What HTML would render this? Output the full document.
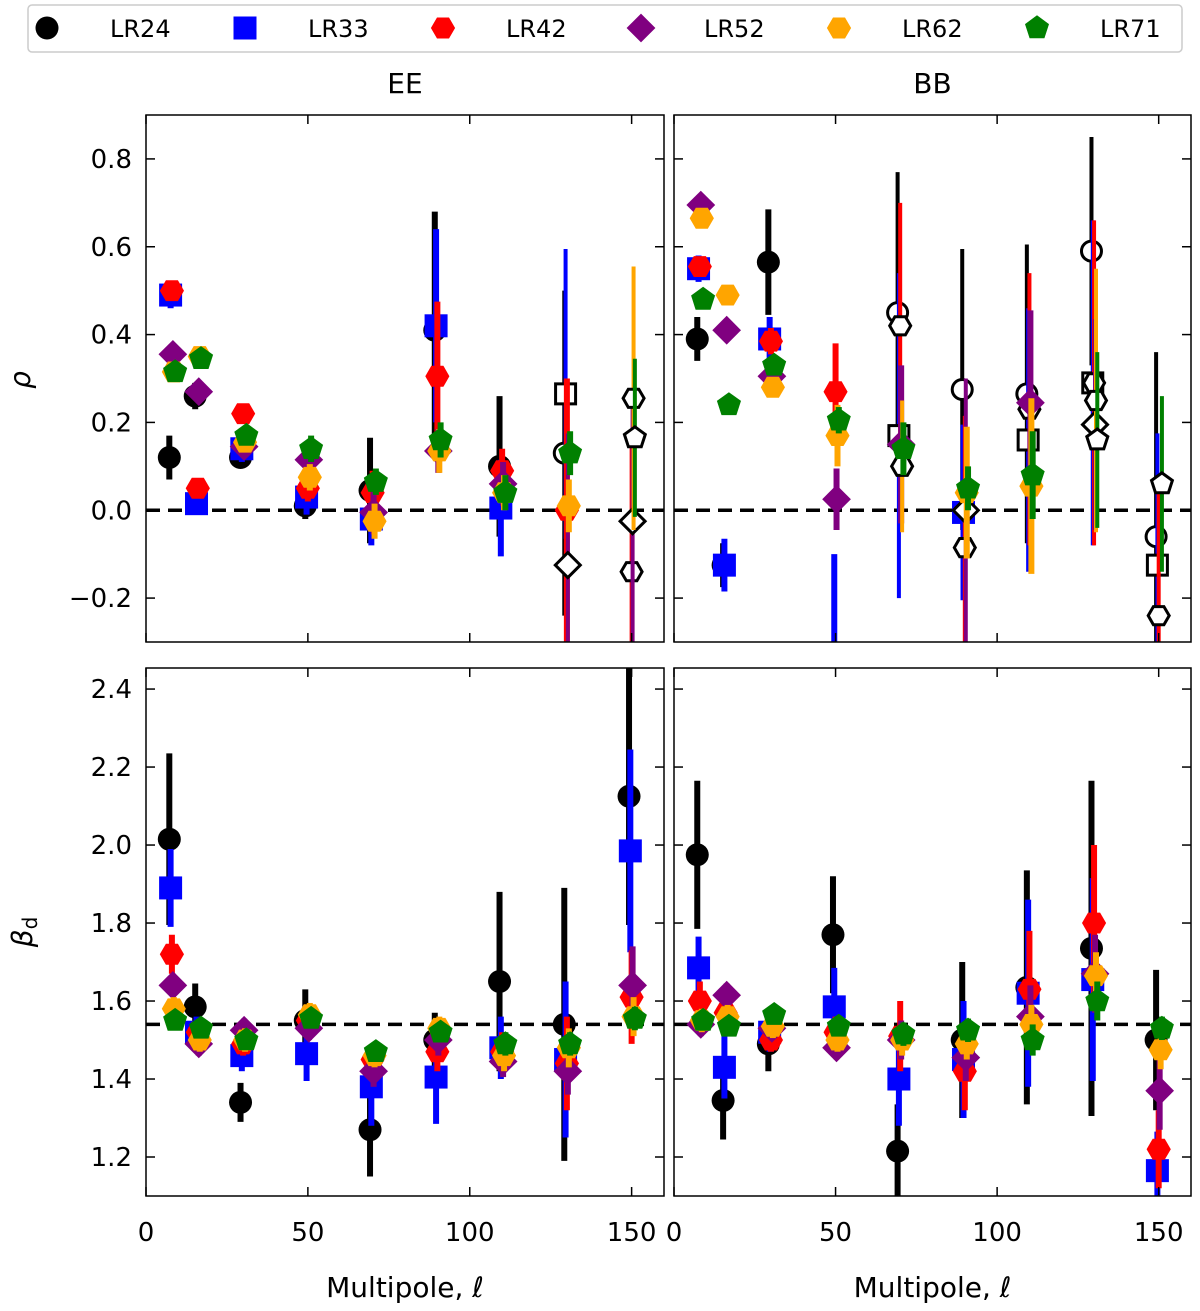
<!DOCTYPE html>
<html><head><meta charset="utf-8"><style>
body{margin:0;background:#fff;}
svg{display:block;font-family:"DejaVu Sans","Liberation Sans",sans-serif;}
</style></head><body>
<svg id="chart" width="1200" height="1311" viewBox="0 0 1200 1311" xmlns="http://www.w3.org/2000/svg"></svg>
<script>
const series = ["LR24","LR33","LR42","LR52","LR62","LR71"];
const colors = ["#000000","#0000ff","#ff0000","#800080","#ffa500","#008000"];
const shapes = ["circle","square","hexagon","diamond","hexagon2","pentagon"];
const bins = [8,16,30,50,70,90,110,130,150];
const offsets = [-0.8,-0.4,0,0.3,0.6,1.0];
// EE rho
const eeRho = [
 [0.12,0.26,0.12,0.01,0.045,0.41,0.10,0.13,null],
 [0.49,0.015,0.14,0.03,-0.02,0.42,0.005,0.265,null],
 [0.50,0.05,0.22,0.05,0.04,0.305,0.09,0.0,-0.14],
 [0.355,0.27,0.145,0.115,-0.005,0.135,0.06,-0.125,-0.025],
 [0.315,0.35,0.155,0.075,-0.025,0.135,0.04,0.01,0.255],
 [0.315,0.345,0.17,0.14,0.065,0.16,0.04,0.13,0.165]];
const eeRhoErr = [
 [0.05,0.03,0.02,0.03,0.12,0.27,0.16,0.37,0],
 [0.03,0.02,0.03,0.04,0.06,0.22,0.11,0.33,0],
 [0.02,0.02,0.02,0.03,0.05,0.17,0.05,0.3,0.3],
 [0.02,0.02,0.02,0.03,0.05,0.05,0.05,0.3,0.3],
 [0.02,0.02,0.02,0.03,0.04,0.05,0.04,0.06,0.3],
 [0.02,0.02,0.02,0.03,0.03,0.04,0.04,0.05,0.18]];
const eeRhoOpen = [
 [0,0,0,0,0,0,0,1,0],[0,0,0,0,0,0,0,1,0],[0,0,0,0,0,0,0,0,1],
 [0,0,0,0,0,0,0,1,1],[0,0,0,0,0,0,0,0,1],[0,0,0,0,0,0,0,0,1]];
// BB rho
const bbRho = [
 [0.39,-0.125,0.565,null,0.45,0.275,0.265,0.59,-0.06],
 [0.55,-0.125,0.39,-0.4,0.17,-0.005,0.16,0.29,-0.125],
 [0.555,null,0.385,0.27,0.42,-0.085,0.23,0.29,-0.24],
 [0.695,0.41,0.305,0.025,0.15,0.0,0.245,0.195,null],
 [0.665,0.49,0.28,0.17,0.10,0.04,0.055,0.25,null],
 [0.48,0.24,0.33,0.205,0.14,0.05,0.08,0.16,0.06]];
const bbRhoErr = [
 [0.05,0.05,0.12,0,0.32,0.32,0.34,0.26,0.42],
 [0.03,0.06,0.05,0.3,0.37,0.2,0.3,0.37,0.3],
 [0.02,0,0.03,0.11,0.28,0.3,0.31,0.37,0.3],
 [0.02,0.02,0.02,0.07,0.18,0.3,0.21,0.24,0],
 [0.02,0.02,0.02,0.07,0.15,0.15,0.2,0.3,0],
 [0.02,0.02,0.02,0.03,0.06,0.05,0.1,0.2,0.2]];
const bbRhoOpen = [
 [0,0,0,0,1,1,1,1,1],[0,0,0,0,1,0,1,1,1],[0,0,0,0,1,1,1,1,1],
 [0,0,0,0,0,1,0,1,0],[0,0,0,0,1,0,0,1,0],[0,0,0,0,0,0,0,1,1]];
// EE beta
const eeBeta = [
 [2.015,1.585,1.34,1.55,1.27,1.50,1.65,1.54,2.125],
 [1.89,1.52,1.46,1.465,1.38,1.405,1.48,1.45,1.985],
 [1.72,1.52,1.49,1.55,1.45,1.47,1.47,1.44,1.61],
 [1.64,1.49,1.525,1.53,1.42,1.50,1.445,1.42,1.64],
 [1.58,1.50,1.50,1.565,1.46,1.53,1.46,1.48,1.56],
 [1.55,1.53,1.50,1.555,1.47,1.52,1.49,1.49,1.555]];
const eeBetaErr = [
 [0.22,0.06,0.05,0.08,0.12,0.07,0.23,0.35,0.33],
 [0.1,0.04,0.04,0.07,0.1,0.12,0.08,0.2,0.26],
 [0.05,0.03,0.03,0.03,0.04,0.05,0.05,0.12,0.12],
 [0.03,0.03,0.03,0.03,0.04,0.04,0.04,0.06,0.1],
 [0.03,0.03,0.03,0.03,0.03,0.03,0.04,0.05,0.05],
 [0.02,0.02,0.02,0.02,0.02,0.02,0.03,0.03,0.03]];
// BB beta
const bbBeta = [
 [1.975,1.345,1.49,1.77,1.215,1.50,1.635,1.735,1.50],
 [1.685,1.43,1.52,1.585,1.40,1.45,1.62,1.655,1.165],
 [1.60,1.57,1.50,1.52,1.51,1.42,1.63,1.80,1.22],
 [1.54,1.615,1.53,1.48,1.50,1.455,1.56,1.67,1.37],
 [1.55,1.56,1.535,1.50,1.50,1.49,1.54,1.665,1.475],
 [1.55,1.535,1.565,1.535,1.515,1.525,1.50,1.60,1.53]];
const bbBetaErr = [
 [0.19,0.1,0.07,0.15,0.12,0.2,0.3,0.43,0.18],
 [0.08,0.08,0.05,0.1,0.12,0.15,0.24,0.26,0.1],
 [0.05,0.04,0.03,0.04,0.09,0.1,0.15,0.2,0.1],
 [0.03,0.03,0.03,0.03,0.05,0.06,0.08,0.1,0.1],
 [0.03,0.03,0.03,0.03,0.04,0.04,0.05,0.06,0.05],
 [0.02,0.02,0.02,0.02,0.03,0.03,0.04,0.05,0.03]];

const svg = document.getElementById('chart');
const NS = "http://www.w3.org/2000/svg";
function mk(tag, attrs, parent){const e=document.createElementNS(NS,tag);for(const k in attrs)e.setAttribute(k,attrs[k]);(parent||svg).appendChild(e);return e;}

// legend
const leg = mk('g',{});


mk('rect',{x:28,y:5,width:1154,height:47,rx:4,fill:'#fff',stroke:'#ccc','stroke-width':1.5},leg);

function marker(parent, shape, cx, cy, color, open){
  const s = open ? 10 : 11.5;
  const fill = open ? '#fff' : color;
  const st = open ? {stroke:'#000','stroke-width':3} : {stroke:'none'};
  let el;
  const poly = pts => mk('polygon',Object.assign({points:pts.map(p=>(cx+p[0]).toFixed(1)+','+(cy+p[1]).toFixed(1)).join(' '),fill:fill},st),parent);
  if(shape==='circle') el = mk('circle',Object.assign({cx:cx,cy:cy,r:s,fill:fill},st),parent);
  else if(shape==='square') el = mk('rect',Object.assign({x:cx-s,y:cy-s,width:2*s,height:2*s,fill:fill},st),parent);
  else if(shape==='diamond') el = poly([[0,-s*1.25],[s*1.25,0],[0,s*1.25],[-s*1.25,0]]);
  else if(shape==='hexagon'||shape==='hexagon2'){const p=[];for(let i=0;i<6;i++){const a=Math.PI/3*i;p.push([s*1.05*Math.cos(a),s*1.05*Math.sin(a)]);}el=poly(p);}
  else {const p=[];for(let i=0;i<5;i++){const a=-Math.PI/2+2*Math.PI/5*i;p.push([s*1.1*Math.cos(a),s*1.1*Math.sin(a)]);}el=poly(p);}
  return el;
}
series.forEach((name,i)=>{
  const g = mk('g',{},leg);
  
  
  const x0 = 47 + i*198;
  marker(g, shapes[i], x0, 28, colors[i], false);
  const t = mk('text',{x:x0+63,y:37,'font-size':24,fill:'#000'},g);
  t.textContent = name;
});

// panels
const panels = [
  {name:'ee-rho',x0:146,x1:664,y0:115,y1:642,ymin:-0.3,ymax:0.9,vals:eeRho,errs:eeRhoErr,open:eeRhoOpen,ref:0,yt:[-0.2,0,0.2,0.4,0.6,0.8],ylab:true,xlab:false,title:'EE'},
  {name:'bb-rho',x0:674,x1:1191,y0:115,y1:642,ymin:-0.3,ymax:0.9,vals:bbRho,errs:bbRhoErr,open:bbRhoOpen,ref:0,yt:[-0.2,0,0.2,0.4,0.6,0.8],ylab:false,xlab:false,title:'BB'},
  {name:'ee-beta',x0:146,x1:664,y0:668,y1:1196,ymin:1.1,ymax:2.454,vals:eeBeta,errs:eeBetaErr,open:null,ref:1.54,yt:[1.2,1.4,1.6,1.8,2.0,2.2,2.4],ylab:true,xlab:true},
  {name:'bb-beta',x0:674,x1:1191,y0:668,y1:1196,ymin:1.1,ymax:2.454,vals:bbBeta,errs:bbBetaErr,open:null,ref:1.54,yt:[1.2,1.4,1.6,1.8,2.0,2.2,2.4],ylab:false,xlab:true}
];
const xticks=[0,50,100,150], xmax=160;
let clipId=0;
panels.forEach(P=>{
  const g = mk('g',{});
  
  
  const X = v => P.x0 + (v/xmax)*(P.x1-P.x0);
  const Y = v => P.y1 - (v-P.ymin)/(P.ymax-P.ymin)*(P.y1-P.y0);
  const cid='clip'+(clipId++);
  const cp=mk('clipPath',{id:cid},g);
  mk('rect',{x:P.x0,y:P.y0,width:P.x1-P.x0,height:P.y1-P.y0},cp);
  const plot = mk('g',{'clip-path':'url(#'+cid+')'},g);
  const ref = mk('line',{x1:P.x0,x2:P.x1,y1:Y(P.ref),y2:Y(P.ref),stroke:'#000','stroke-width':3.5,'stroke-dasharray':'14,8'},plot);
  
  
  series.forEach((name,si)=>{
    const sg = mk('g',{},plot);
    
    
    bins.forEach((b,bi)=>{
      const v=P.vals[si][bi]; if(v===null) return;
      const e=P.errs[si][bi]; const cx=X(b+offsets[si]);
      const op = P.open ? P.open[si][bi] : 0;
      if(e>0){
        const ln=mk('line',{x1:cx,x2:cx,y1:Y(v-e),y2:Y(v+e),stroke:colors[si],'stroke-width':op?4:6},sg);
        
        
      }
      const m=marker(sg,shapes[si],cx,Y(v),colors[si],op);
      
      
    });
  });
  mk('rect',{x:P.x0,y:P.y0,width:P.x1-P.x0,height:P.y1-P.y0,fill:'none',stroke:'#000','stroke-width':1.5},g);
  xticks.forEach(t=>{
    const x=X(t);
    mk('line',{x1:x,x2:x,y1:P.y1,y2:P.y1-9,stroke:'#000','stroke-width':1.5},g);
    mk('line',{x1:x,x2:x,y1:P.y0,y2:P.y0+9,stroke:'#000','stroke-width':1.5},g);
    if(P.xlab){const tx=mk('text',{x:x,y:P.y1+45,'font-size':26,'text-anchor':'middle'},g);tx.textContent=t;}
  });
  P.yt.forEach(t=>{
    const y=Y(t);
    mk('line',{x1:P.x0,x2:P.x0+9,y1:y,y2:y,stroke:'#000','stroke-width':1.5},g);
    mk('line',{x1:P.x1,x2:P.x1-9,y1:y,y2:y,stroke:'#000','stroke-width':1.5},g);
    if(P.ylab){const tx=mk('text',{x:P.x0-14,y:y+9,'font-size':26,'text-anchor':'end'},g);tx.textContent=(t<0?'\u2212':'')+Math.abs(t).toFixed(1);}
  });
  if(P.title){const tt=mk('text',{x:(P.x0+P.x1)/2,y:93,'font-size':28,'text-anchor':'middle'},g);tt.textContent=P.title;
    }
  if(P.xlab){const xl=mk('text',{x:(P.x0+P.x1)/2,y:1297,'font-size':28,'text-anchor':'middle'},g);xl.textContent='Multipole, \u2113';
    }
});
const yl1=mk('text',{x:30,y:380,'font-size':28,'font-style':'italic','text-anchor':'middle',transform:'rotate(-90 30 380)'});
yl1.textContent='\u03c1';


const yl2=mk('text',{x:32,y:932,'font-size':28,'font-style':'italic','text-anchor':'middle',transform:'rotate(-90 32 932)'});
yl2.innerHTML='\u03b2<tspan font-size="20" font-style="normal" dy="5">d</tspan>';


</script>
</body></html>
